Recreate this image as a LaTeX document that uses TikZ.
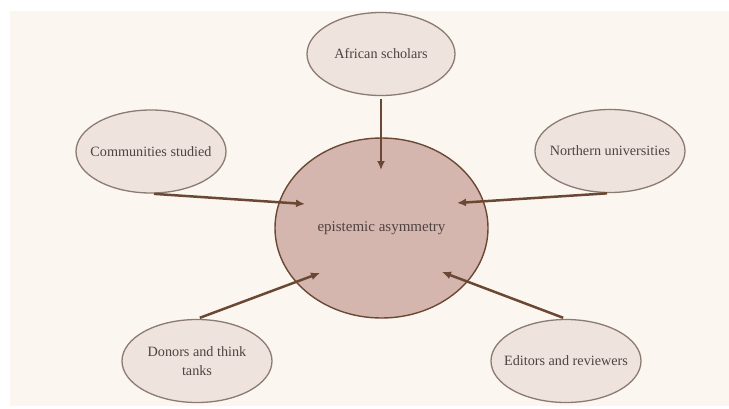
\documentclass[tikz,border=0pt]{standalone}
\usepackage{fontspec}
\setmainfont{Liberation Serif}
\usetikzlibrary{calc,shapes.geometric,arrows.meta}
\definecolor{cream}{HTML}{FBF7F0}
\definecolor{petal}{HTML}{EFE3DE}
\definecolor{core}{HTML}{D5B6AE}
\definecolor{rim}{HTML}{8C7B72}
\definecolor{umber}{HTML}{6A4834}
\definecolor{ink}{HTML}{4F4341}
\tikzset{
	petal/.style={ellipse, draw=rim, line width=1.3pt, fill=petal, inner sep=0pt, minimum width=150pt, minimum height=83pt},
	core/.style={ellipse, draw=umber, line width=1.4pt, fill=core, inner sep=0pt, minimum width=213pt, minimum height=180pt},
	tag/.style={text=ink, align=center, font=\fontsize{14.2}{19}\selectfont},
	feed/.style={draw=umber, line width=2.5pt, -{Latex[length=9pt,width=8pt]}, shorten <=3pt}
}

\begin{document}
\begin{tikzpicture}[x=1pt,y=-1pt]
				\fill[white] (0,0) rectangle (729,408);
				\fill[cream] (10,11) rectangle (729,406);
				
				\node[core, label={[tag, font=\fontsize{15}{19}\selectfont]center:epistemic asymmetry}] (asym) at (381.5,228) {};
				
				\node[petal, minimum width=148pt, label={[tag]center:African scholars}] (afr) at (381,54) {};
				\node[petal, label={[tag]center:Communities studied}] (comm) at (151,151.5) {};
				\node[petal, label={[tag]center:Northern universities}] (north) at (610,151) {};
				\node[petal, label={[tag]center:Donors and think\\tanks}] (donor) at (197,361) {};
				\node[petal, label={[tag]center:Editors and reviewers}] (edit) at (566,361) {};
				
				\coordinate (asym-n) at (381,170);
				\coordinate (asym-w) at (305,204);
				\coordinate (asym-e) at (457,203);
				\coordinate (asym-sw) at (320,273);
				\coordinate (asym-se) at (442,272);
				
				\draw[feed] (afr.south) -- (asym-n);
				\draw[feed] (comm.south) -- (asym-w);
				\draw[feed] (north.south) -- (asym-e);
				\draw[feed] (donor.north) -- (asym-sw);
				\draw[feed] (edit.north) -- (asym-se);
			\end{tikzpicture}
\end{document}
